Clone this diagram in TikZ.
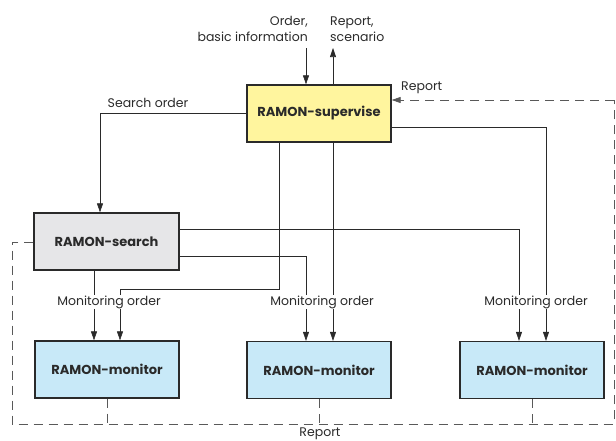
\documentclass[tikz,border=0pt]{standalone}
\usepackage{fontspec}
\setmainfont{Poppins}
\usetikzlibrary{arrows.meta}
\definecolor{supfill}{HTML}{FFF59E}
\definecolor{srchfill}{HTML}{E6E6E8}
\definecolor{monfill}{HTML}{C8E9F8}
\definecolor{ink}{HTML}{2A2A2A}
\tikzset{
  box/.style={draw=ink, line width=1.3pt, minimum width=144pt, minimum height=57pt,
    inner sep=0pt, font=\fontsize{13}{15}\selectfont\bfseries, text=ink},
  flow/.style={draw=ink, line width=0.6pt, -{Triangle[length=9pt,width=6pt]}},
  wire/.style={draw=ink, line width=0.6pt},
  fb/.style={draw=black!65, line width=0.8pt, dash pattern=on 9pt off 6pt},
  lbl/.style={font=\fontsize{12.5}{16}\selectfont, text=ink, inner sep=1pt},
}
\begin{document}
\begin{tikzpicture}[x=1pt,y=-1pt]
\useasboundingbox (0,0) rectangle (616,440);

% agents
\node[box, fill=supfill]  (sup)  at (319,113.5) {RAMON-supervise};
\node[box, fill=srchfill, minimum width=145pt] (srch) at (106.5,241.5) {RAMON-search};
\node[box, fill=monfill]  (mon1) at (107,369.5) {RAMON-monitor};
\node[box, fill=monfill]  (mon2) at (319,370) {RAMON-monitor};
\node[box, fill=monfill]  (mon3) at (532,370) {RAMON-monitor};

% external order and report
\coordinate (inO) at (306,48);
\coordinate (outR) at (333,48);
\node[lbl, anchor=south east, align=right] (ordlbl) at (309,43) {Order,\\basic information};
\node[lbl, anchor=south west, align=left]  (replbl) at (329,43) {Report,\\scenario};
\draw[flow] (inO) -- (inO |- sup.north);
\draw[flow] (outR |- sup.north) -- (outR);

% search order
\coordinate (so) at (100,113);
\draw[flow] (sup.west |- so) -- (so) -- (so |- srch.north);
\node[lbl] (solbl) at (148,103) {Search order};

% monitoring orders from the supervisor
\coordinate (s1) at (279,289);
\coordinate (m1b) at (120,289);
\draw[flow] (s1 |- sup.south) -- (s1) -- (m1b) -- (m1b |- mon1.north);
\coordinate (s2) at (333,200);
\draw[flow] (s2 |- sup.south) -- (s2 |- mon2.north);
\coordinate (s3) at (546,127);
\draw[flow] (sup.east |- s3) -- (s3) -- (s3 |- mon3.north);

% monitoring orders from the search agent
\coordinate (r3) at (519,229);
\draw[flow] (srch.east |- r3) -- (r3) -- (r3 |- mon3.north);
\coordinate (r2) at (306,256);
\draw[flow] (srch.east |- r2) -- (r2) -- (r2 |- mon2.north);
\coordinate (r1) at (94,300);
\draw[flow] (r1 |- srch.south) -- (r1 |- mon1.north);

\node[lbl, fill=white] (mo1) at (109,302) {Monitoring order};
\node[lbl, fill=white] (mo2) at (322,302) {Monitoring order};
\node[lbl, fill=white] (mo3) at (536,302) {Monitoring order};

% report feedback loop
\coordinate (bl) at (12,424);
\coordinate (br) at (614,424);
\coordinate (tl) at (12,242);
\coordinate (tr) at (614,100);
\draw[fb] (srch.west |- tl) -- (tl) -- (bl) -- (br) -- (tr);
\draw[fb, -{Triangle[length=9pt,width=6pt]}] (tr) -- (sup.east |- tr);
\draw[fb] (mon1.south) -- (mon1.south |- bl);
\draw[fb] (mon2.south) -- (mon2.south |- bl);
\draw[fb] (mon3.south) -- (mon3.south |- bl);
\node[lbl, anchor=west] (rtop) at (400,88) {Report};
\node[lbl] (rbot) at (320,434) {Report};
\end{tikzpicture}
\end{document}
